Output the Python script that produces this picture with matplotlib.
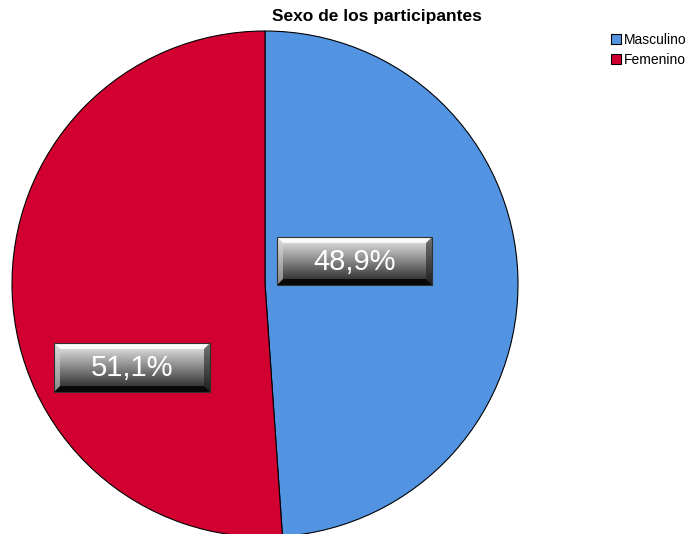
import matplotlib.pyplot as plt
import numpy as np
from matplotlib.patches import Polygon, Rectangle

plt.rcParams['font.family'] = ['Liberation Sans', 'DejaVu Sans']

# data
categories = ['Masculino', 'Femenino']
values = [48.9, 51.1]
colors = ['#5294e2', '#d20030']
label_text = ['48,9%', '51,1%']

W, H = 694, 534
fig = plt.figure(figsize=(W / 100, H / 100), dpi=100)
ax = fig.add_axes([0, 0, 1, 1])

cx, cy, r = 265, H - 284, 253
wedges, _ = ax.pie(values, colors=colors, startangle=90, counterclock=False,
                   center=(cx, cy), radius=r, frame=True,
                   wedgeprops={'edgecolor': 'black', 'linewidth': 0.8})
ax.set_xlim(0, W)
ax.set_ylim(0, H)
ax.set_aspect('equal')
ax.axis('off')


def bevel_box(x0, y0, w, h, text):
    # y0 in pixels from top
    y_top = H - y0
    y_bot = H - y0 - h
    grad = np.linspace(0.93, 0.12, 64).reshape(-1, 1)
    ax.imshow(grad, cmap='gray', vmin=0, vmax=1, aspect='auto',
              extent=(x0, x0 + w, y_bot, y_top), zorder=3, interpolation='bilinear')
    b = 6
    ax.add_patch(Polygon([(x0, y_top), (x0 + w, y_top), (x0 + w - b, y_top - b), (x0 + b, y_top - b)],
                         closed=True, fc='white', ec='none', alpha=0.85, zorder=4))
    ax.add_patch(Polygon([(x0, y_bot), (x0 + w, y_bot), (x0 + w - b, y_bot + b), (x0 + b, y_bot + b)],
                         closed=True, fc='black', ec='none', alpha=0.8, zorder=4))
    ax.add_patch(Polygon([(x0, y_top), (x0, y_bot), (x0 + b, y_bot + b), (x0 + b, y_top - b)],
                         closed=True, fc='#d0d0d0', ec='none', alpha=0.6, zorder=4))
    ax.add_patch(Polygon([(x0 + w, y_top), (x0 + w, y_bot), (x0 + w - b, y_bot + b), (x0 + w - b, y_top - b)],
                         closed=True, fc='#202020', ec='none', alpha=0.6, zorder=4))
    ax.add_patch(Rectangle((x0, y_bot), w, h, fc='none', ec='#303030', lw=0.8, zorder=5))
    ax.text(x0 + w / 2, (y_top + y_bot) / 2 - 1, text, color='white', fontsize=21,
            ha='center', va='center', zorder=6)


bevel_box(277, 237, 155, 48, label_text[0])
bevel_box(54, 343, 156, 49, label_text[1])

fig.text(377 / W, 1 - 17 / H, 'Sexo de los participantes', fontsize=12.5, fontweight='bold',
         ha='center', va='center')

ax.legend(wedges, categories, loc='upper left', bbox_to_anchor=(611 / W, 1 - 33 / H),
          bbox_transform=fig.transFigure, frameon=False, fontsize=10,
          handlelength=0.75, handleheight=0.75, handletextpad=0.2, labelspacing=0.45,
          borderpad=0, borderaxespad=0)

fig.savefig('out.png', dpi=100)
